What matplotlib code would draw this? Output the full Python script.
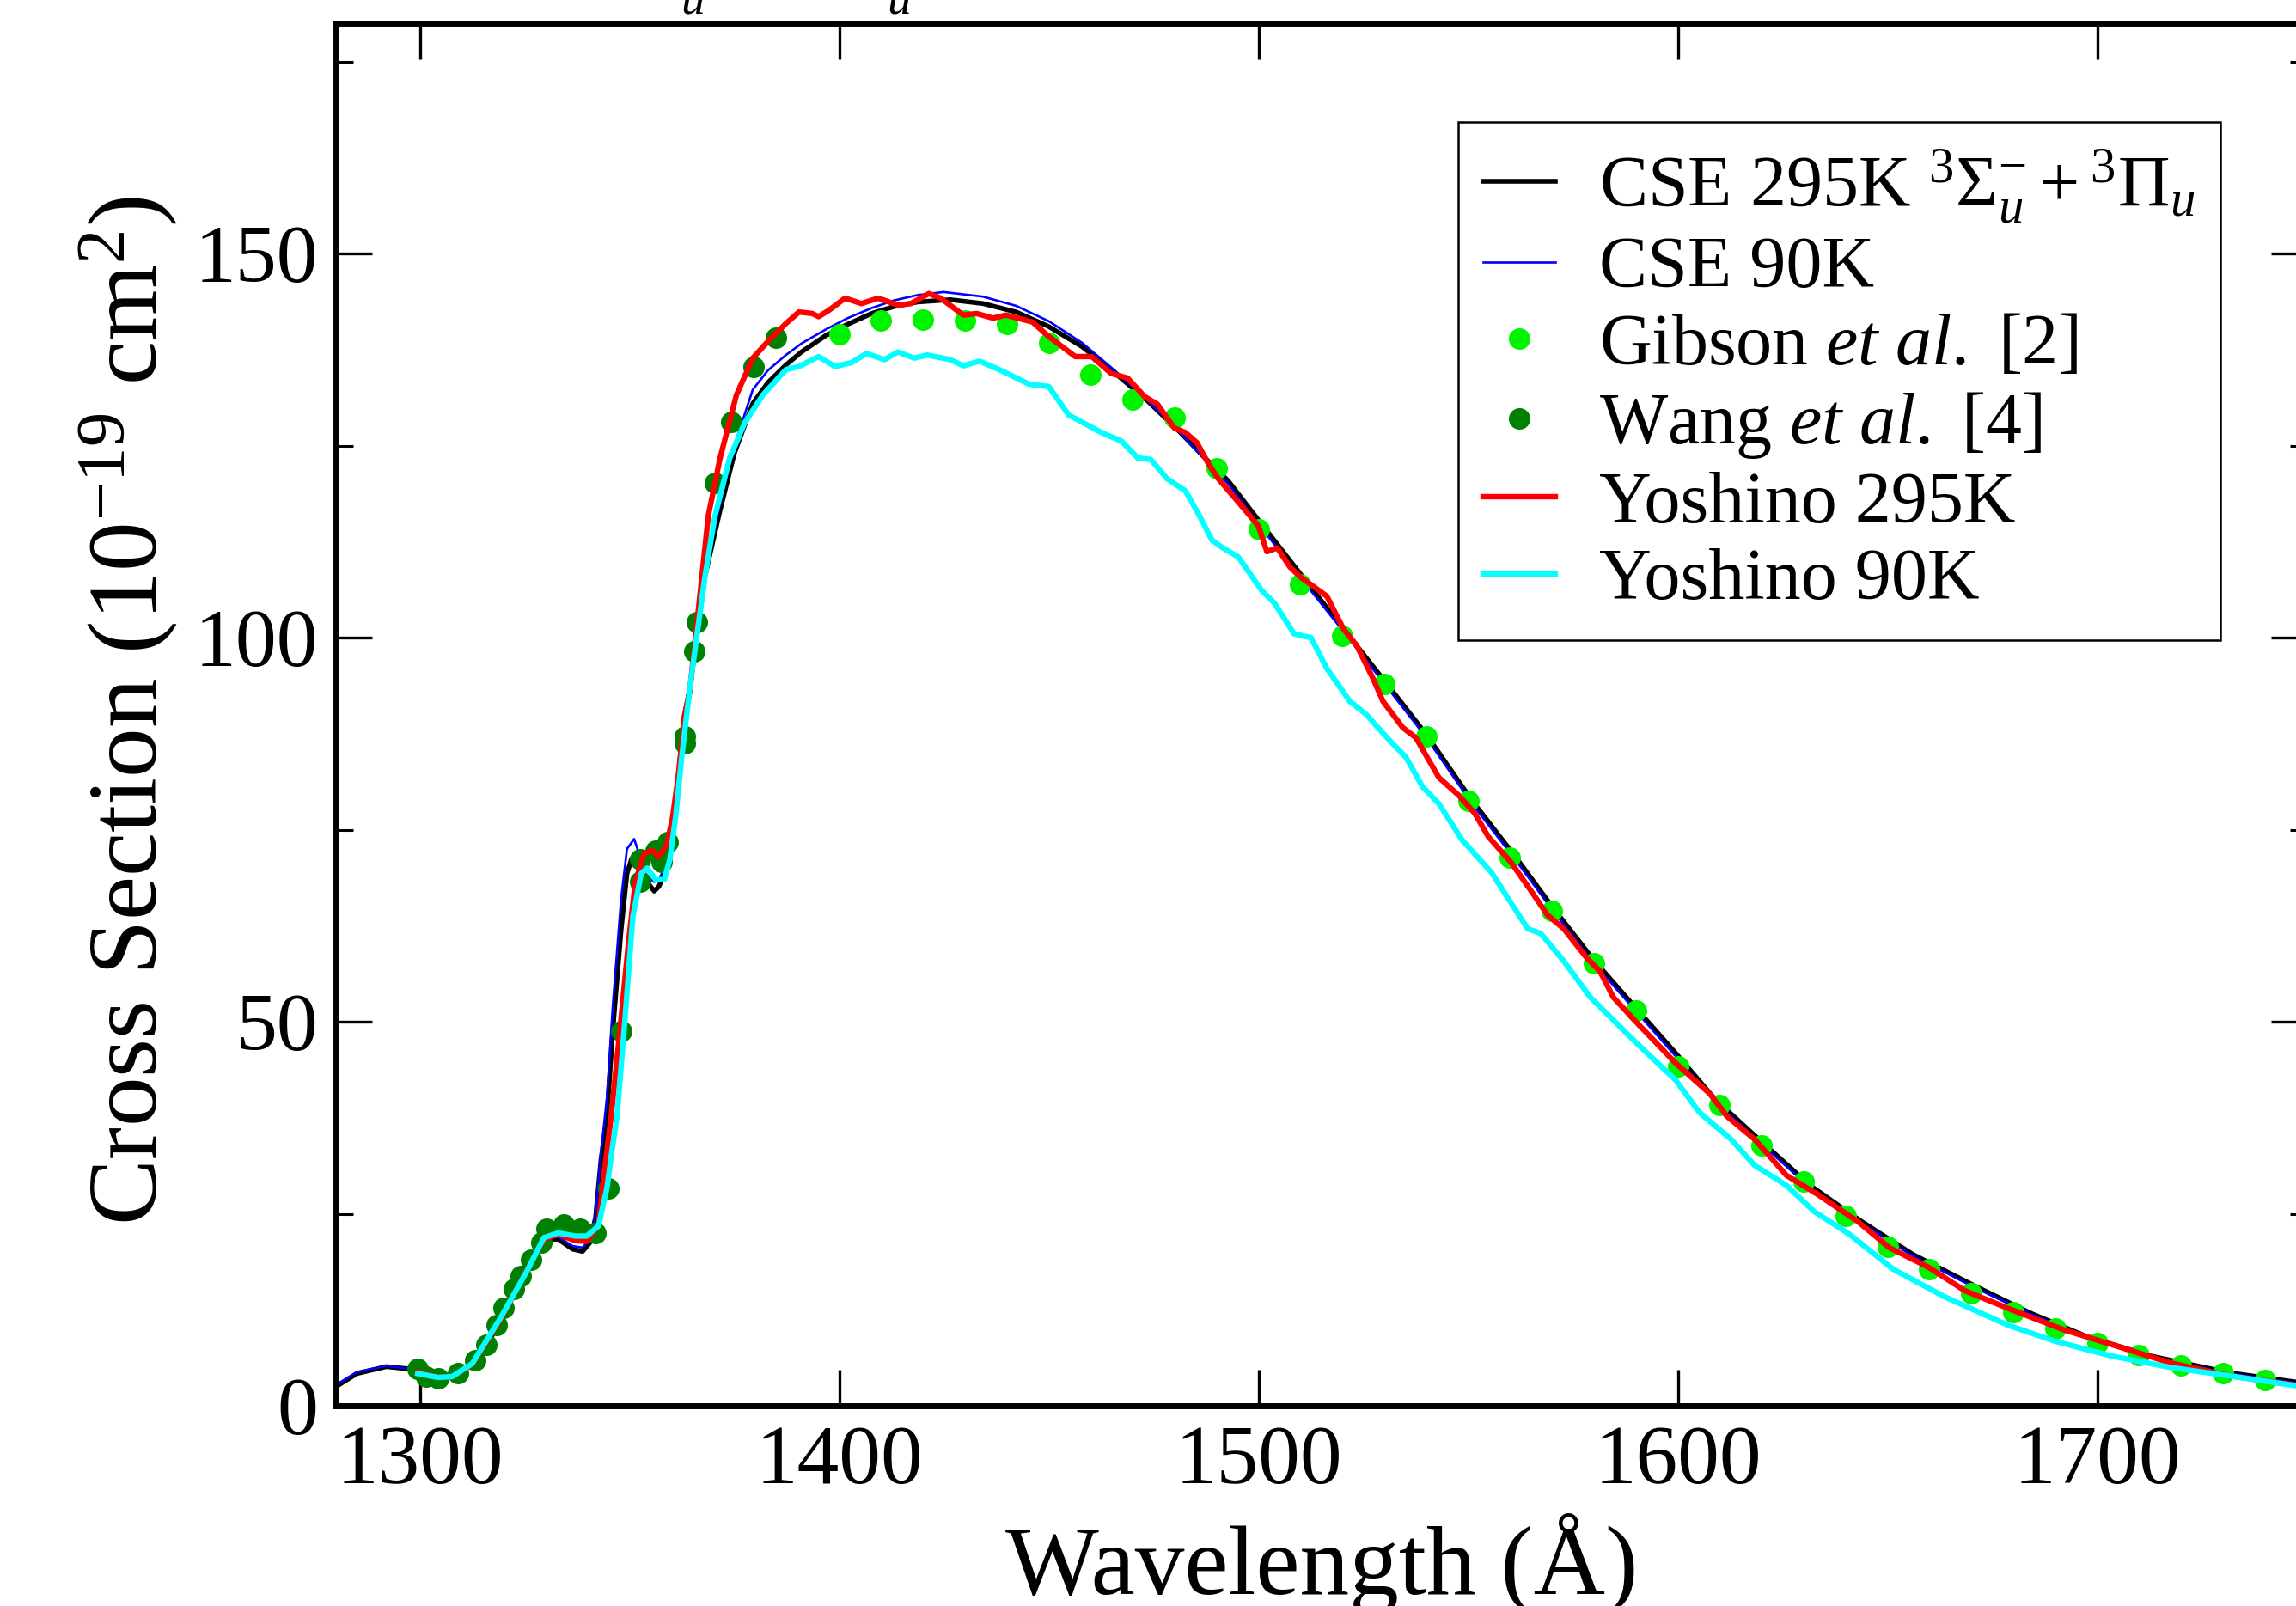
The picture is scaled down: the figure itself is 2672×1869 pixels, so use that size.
import matplotlib
matplotlib.use("Agg")
import matplotlib.pyplot as plt
from matplotlib.ticker import MultipleLocator

plt.rcParams['font.family'] = ['Liberation Serif', 'DejaVu Serif']
plt.rcParams['mathtext.fontset'] = 'custom'
plt.rcParams['mathtext.rm'] = 'Liberation Serif'
plt.rcParams['mathtext.it'] = 'Liberation Serif:italic'
plt.rcParams['mathtext.bf'] = 'Liberation Serif:bold'

# ---------------- data ----------------
cse295_x = [1280, 1285, 1292, 1297.5, 1302, 1307, 1311, 1316, 1321.4, 1326.2, 1329.6, 1333,
            1336.4, 1338.8, 1340.5, 1341.9, 1343.2, 1344.6, 1346, 1348, 1349.4, 1350.5, 1352,
            1354, 1355.9, 1357, 1358.3, 1360.3, 1361.7, 1363.1, 1364.4, 1366, 1368, 1371.6,
            1375, 1379.4, 1383, 1387.3, 1391, 1396.7, 1402, 1407.7, 1413, 1418.7, 1426.5,
            1434.3, 1442.2, 1450, 1457.9, 1465.7, 1473.6, 1481.4, 1486.7, 1492.8, 1500, 1510,
            1520, 1530.3, 1540, 1550.9, 1561.1, 1570, 1580, 1587.7, 1599.5, 1608.9, 1618.3,
            1631.5, 1643.8, 1656.1, 1671.2, 1684.4, 1697.6, 1712.7, 1731.6, 1750]
cse295_y = [2.5, 4.2, 5.1, 4.8, 4.0, 3.8, 4.8, 7.8, 13.7, 18.6, 21.6, 21.7,
            20.4, 20.1, 21.2, 24.5, 32.0, 37.6, 48.8, 62.0, 69.3, 71.2, 70.5,
            68.3, 67.0, 67.6, 69.3, 74.9, 82.3, 89.8, 93.5, 100.0, 108.0, 116.6,
            124.0, 130.5, 133.2, 135.5, 137.2, 139.3, 140.8, 142.2, 143.1, 143.7, 144.0,
            143.5, 142.4, 140.5, 137.9, 134.5, 130.8, 126.7, 123.7, 120.4, 115.3, 108.3,
            101.3, 94.2, 87.4, 78.8, 71.6, 65.0, 58.0, 53.2, 45.9, 39.9, 35.2,
            28.7, 24.0, 19.7, 15.5, 12.0, 9.0, 6.5, 4.3, 2.9]

cse90_x = [1280, 1285, 1292, 1297.5, 1302, 1307, 1311, 1316, 1321.4, 1326.2, 1329.6, 1333,
           1336.4, 1338.8, 1340.5, 1341.9, 1343.2, 1344.6, 1346, 1348, 1349.4, 1351.1, 1352.5,
           1354, 1355.9, 1357, 1358.3, 1360.3, 1361.7, 1363.1, 1364.4, 1366, 1368, 1371.6,
           1375, 1379.4, 1383, 1387.3, 1391, 1396.7, 1402, 1407.7, 1413, 1418.7, 1424.9,
           1434.3, 1442.2, 1450, 1457.9, 1465.7, 1473.6, 1481.4, 1486.7, 1492.8, 1500, 1510,
           1520, 1530.3, 1540, 1550.9, 1561.1, 1570, 1580, 1587.7, 1599.5, 1608.9, 1618.3,
           1631.5, 1643.8, 1656.1, 1671.2, 1684.4, 1697.6, 1712.7, 1731.6, 1750]
cse90_y = [2.7, 4.4, 5.2, 4.8, 4.0, 3.7, 4.6, 7.8, 14.0, 19.0, 21.8, 22.0,
           20.8, 20.6, 21.6, 25.0, 33.0, 40.0, 52.0, 66.0, 72.5, 73.8, 71.5,
           69.0, 68.2, 68.5, 70.0, 75.5, 82.5, 90.0, 94.0, 100.5, 108.5, 117.5,
           125.0, 132.3, 134.8, 136.8, 138.3, 140.1, 141.6, 142.9, 143.9, 144.6, 145.0,
           144.4, 143.2, 141.2, 138.4, 134.8, 130.9, 126.6, 123.5, 120.0, 114.8, 107.8,
           101.0, 93.8, 87.0, 78.4, 71.2, 64.6, 57.6, 52.8, 45.5, 39.6, 34.9,
           28.4, 23.8, 19.5, 15.3, 11.9, 8.9, 6.4, 4.2, 2.8]

gibson_x = [1400, 1410, 1420, 1430, 1440, 1450, 1460, 1470, 1480, 1490, 1500, 1510, 1520,
            1530, 1540, 1550, 1560, 1570, 1580, 1590, 1600, 1610, 1620, 1630, 1640, 1650,
            1660, 1670, 1680, 1690, 1700, 1710, 1720, 1730, 1740]
gibson_y = [139.5, 141.3, 141.4, 141.3, 140.9, 138.4, 134.2, 131.0, 128.7, 122.0, 114.1,
            106.9, 100.2, 94.0, 87.1, 78.8, 71.4, 64.4, 57.6, 51.5, 44.2, 39.2, 33.9, 29.2,
            24.7, 20.7, 17.8, 14.7, 12.2, 10.1, 8.2, 6.6, 5.3, 4.2, 3.4]

wang_x = [1299.5, 1301.6, 1304.3, 1309.1, 1313.2, 1315.9, 1318.3, 1320.0, 1322.4, 1324.1,
          1326.5, 1328.9, 1330.3, 1334.4, 1338.1, 1341.9, 1345.0, 1348.0, 1352.5, 1352.5,
          1356.2, 1357.6, 1359.0, 1363.1, 1363.1, 1365.4, 1366.0, 1370.4, 1374.2, 1379.6,
          1385.0]
wang_y = [4.8, 3.8, 3.6, 4.2, 5.9, 7.9, 10.5, 12.7, 15.2, 16.9,
          19.0, 21.2, 23.0, 23.6, 23.0, 22.5, 28.3, 48.8, 71.1, 68.2,
          72.3, 70.8, 73.4, 87.2, 86.3, 98.2, 102.0, 120.1, 128.1, 135.2,
          139.0]

yos295_x = [1299.5, 1304.3, 1307.7, 1312.5, 1319.3, 1325.5, 1329.6, 1333, 1337.1, 1339.8,
            1342.6, 1343.9, 1345.6, 1347.7, 1349.7, 1351.4, 1353.5, 1355.5, 1356.9, 1358.9,
            1360.3, 1361.7, 1363.1, 1364.4, 1365.5, 1366.5, 1368.8, 1371.6, 1375.5, 1379.4,
            1383.4, 1387.3, 1390.4, 1393.6, 1395.1, 1397.5, 1401.4, 1405.3, 1409.3, 1414,
            1417.1, 1421.4, 1424.2, 1429.6, 1432.8, 1436.7, 1439.8, 1446.1, 1450, 1456.3,
            1460.2, 1464.9, 1468.8, 1472.8, 1475.9, 1479.9, 1482.6, 1485.3, 1488.1, 1490.4,
            1494.5, 1497.3, 1500, 1502, 1504.5, 1507.5, 1510, 1516.3, 1520.3, 1523.4, 1527.3,
            1529.7, 1534.4, 1537.5, 1543, 1547.7, 1551.6, 1554.8, 1560.3, 1565.8, 1568.9,
            1572.8, 1578.3, 1581.4, 1584.6, 1590, 1599.5, 1607.5, 1611.7, 1618.3, 1625.9,
            1633.4, 1642.9, 1650.4, 1659.9, 1668.4, 1678.7, 1692, 1703.3, 1717.4, 1731.6,
            1750]
yos295_y = [4.4, 3.7, 3.8, 5.4, 11.3, 17.6, 21.7, 22.3, 21.5, 21.4,
            23.5, 30.1, 37.6, 48.8, 60.0, 68.2, 71.9, 72.3, 71.5, 73.0,
            76.7, 82.3, 89.8, 93.0, 99.0, 104.0, 115.9, 123.4, 131.6, 136.4,
            138.8, 140.9, 142.4, 142.2, 141.8, 142.6, 144.2, 143.5, 144.2, 143.3,
            143.5, 144.8, 144.2, 142.0, 142.2, 141.6, 142.0, 141.1, 139.2, 136.6,
            136.6, 134.4, 133.8, 131.4, 130.4, 127.3, 126.7, 125.4, 122.6, 120.7,
            118.1, 116.3, 114.5, 111.2, 111.7, 109.2, 107.9, 105.4, 101.1, 99.0, 94.7,
            91.7, 88.3, 87.0, 81.8, 79.5, 77.1, 74.1, 70.7, 66.4, 63.9,
            62.1, 58.3, 56.6, 53.2, 50.0, 44.6, 40.7, 37.7, 34.7, 30.0,
            27.5, 24.0, 20.6, 18.0, 15.0, 12.7, 9.9, 8.0, 5.6, 3.9,
            2.5]

yos90_x = [1299.5, 1304.3, 1307.7, 1312.5, 1319.3, 1325.5, 1329.6, 1333, 1337.1, 1339.8,
           1342.6, 1344.6, 1346, 1347, 1348.7, 1350.8, 1352.8, 1354.2, 1356.2, 1358.3,
           1359.6, 1361, 1362.4, 1364.4, 1366, 1368, 1370.4, 1373.9, 1377.5, 1381.8,
           1387.3, 1390.4, 1395.1, 1399, 1402.9, 1406.5, 1410.8, 1414, 1417.9, 1421,
           1426.5, 1429.6, 1433.5, 1438.2, 1445.3, 1450, 1454.7, 1462.6, 1467.3, 1471.2,
           1474.3, 1478.2, 1482.6, 1485.7, 1488.9, 1491.2, 1495.2, 1500.7, 1503.8, 1508.5,
           1512.5, 1516.3, 1521.8, 1525.7, 1531.3, 1535.2, 1539.1, 1543, 1548.5, 1555.6,
           1564.2, 1567.3, 1572.8, 1579.1, 1590, 1599.5, 1605.1, 1612.7, 1618.3, 1625.9,
           1632.5, 1641, 1651.3, 1663.6, 1678.7, 1690, 1703.3, 1717.4, 1731.6, 1750]
yos90_y = [4.2, 3.7, 3.8, 5.5, 11.5, 17.5, 21.9, 22.5, 22.1, 22.1,
           23.4, 28.3, 33.9, 37.6, 48.8, 63.7, 69.3, 70.0, 68.5, 68.5,
           71.1, 76.7, 84.2, 93.5, 100.0, 108.0, 115.9, 123.4, 128.0, 131.6,
           134.9, 135.3, 136.6, 135.3, 135.8, 137.0, 136.2, 137.2, 136.4, 136.8,
           136.2, 135.4, 136.0, 134.9, 133.0, 132.7, 129.0, 126.7, 125.6, 123.4,
           123.2, 120.7, 119.1, 116.1, 112.7, 111.8, 110.5, 106.2, 104.5, 100.5,
           100.0, 96.0, 91.7, 90.0, 86.6, 84.4, 80.6, 78.4, 73.7, 69.4,
           62.1, 61.5, 57.9, 53.2, 47.3, 42.4, 38.2, 34.7, 31.3, 28.7,
           25.3, 22.3, 17.8, 14.2, 10.5, 8.4, 6.5, 5.0, 3.9, 2.4]

labels = [r"CSE 295K $^{3}\Sigma_{u}^{-}+^{3}\Pi_{u}$",
          "CSE 90K",
          r"Gibson $\mathit{et\ al.}$ [2]",
          r"Wang $\mathit{et\ al.}$ [4]",
          "Yoshino 295K",
          "Yoshino 90K"]

x_ticks = [1300, 1400, 1500, 1600, 1700]
y_ticks = [0, 50, 100, 150]

# ---------------- figure ----------------
W, H = 2672, 1869
fig = plt.figure(figsize=(W / 100, H / 100), dpi=100)
ax = fig.add_axes([391 / W, 1 - 1636 / H, (2684.6 - 391) / W, (1636 - 27) / H])

ax.plot(cse295_x, cse295_y, color='black', lw=4.0, label=labels[0], zorder=2.0)
ax.plot(cse90_x, cse90_y, color='#0000ff', lw=1.9, label=labels[1], zorder=2.1)
ax.plot(gibson_x, gibson_y, linestyle='none', marker='o', ms=18, mec='none',
        color='#00f400', label=labels[2], zorder=2.2)
ax.plot(wang_x, wang_y, linestyle='none', marker='o', ms=18, mec='none',
        color='#008000', label=labels[3], zorder=2.3)
ax.plot(yos295_x, yos295_y, color='#ff0000', lw=4.6, label=labels[4], zorder=2.4,
        solid_joinstyle='round')
ax.plot(yos90_x, yos90_y, color='#00ffff', lw=4.6, label=labels[5], zorder=2.5,
        solid_joinstyle='round')

ax.set_xlim(1280, 1750)
ax.set_ylim(0, 180)
ax.set_xticks(x_ticks)
ax.set_yticks(y_ticks)
ax.yaxis.set_minor_locator(MultipleLocator(25))

for s in ax.spines.values():
    s.set_linewidth(5.0)

ax.tick_params(which='both', direction='in', top=True, right=True)
ax.tick_params(which='major', length=30, width=2.4)
ax.tick_params(which='minor', length=14.5, width=2.2)
ax.tick_params(axis='x', which='major', labelsize=70, pad=16)
ax.tick_params(axis='y', which='major', labelsize=69, pad=15)

ax.set_xlabel("Wavelength (Å)", fontsize=83)
ax.set_ylabel(r"Cross Section (10$^{-19}$ cm$^{2}$)", fontsize=83)
ax.xaxis.set_label_coords(0.5, (1636 - 1855) / 1609)
ax.xaxis.label.set_va('baseline')
ax.yaxis.set_label_coords((182 - 391) / 2293.6, 0.503)
ax.yaxis.label.set_va('baseline')

leg = ax.legend(loc='upper left',
                bbox_to_anchor=((1697 - 391) / 2293.6, (1636 - 142) / 1609),
                fontsize=60.5, frameon=True, fancybox=False, framealpha=1,
                edgecolor='black', handlelength=1.0, handletextpad=0.6,
                borderpad=0.35, labelspacing=0.15, borderaxespad=0.0, numpoints=1)
leg.get_frame().set_linewidth(1.8)

# clipped fragments of the text above the plot
fig.text(806 / W, 1 - 15 / H, "u", fontsize=40, style='italic', ha='center', va='baseline')
fig.text(1046 / W, 1 - 15 / H, "u", fontsize=40, style='italic', ha='center', va='baseline')

fig.savefig("out.png", dpi=100)
